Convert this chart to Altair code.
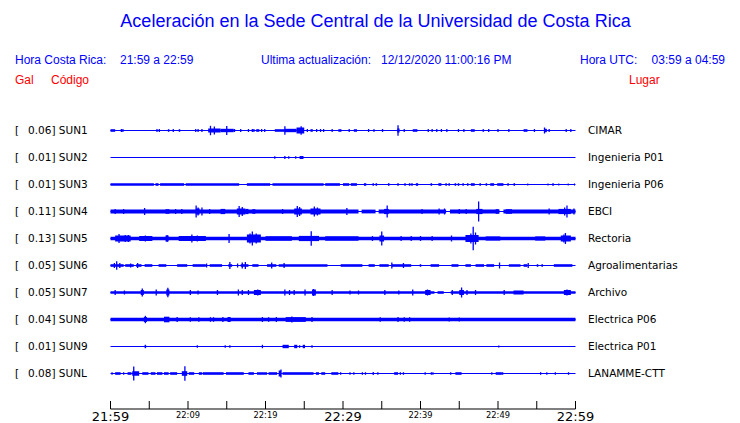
import altair as alt
import pandas as pd

# ---------------- data ----------------
CODES = ["SUN1", "SUN2", "SUN3", "SUN4", "SUN5", "SUN6", "SUN7", "SUN8", "SUN9", "SUNL"]
PEAK_GAL = ["0.06", "0.01", "0.01", "0.11", "0.13", "0.05", "0.05", "0.04", "0.01", "0.08"]
PLACES = ["CIMAR", "Ingenieria P01", "Ingenieria P06", "EBCI", "Rectoria",
          "Agroalimentarias", "Archivo", "Electrica P06", "Electrica P01", "LANAMME-CTT"]

TICK_MIN = [0, 5, 10, 15, 20, 25, 30, 35, 40, 45, 50, 55, 60]
LABEL_MIN = [0, 10, 20, 30, 40, 50, 60]
LABEL_TXT = ["21:59", "22:09", "22:19", "22:29", "22:39", "22:49", "22:59"]
LABEL_MAJOR = [True, False, False, True, False, False, True]

# envelope segments per station: (start minute, end minute, half amplitude)
SEGMENTS = {
    "SUN1": [(0.0, 0.6, 1.3), (7.4, 7.6, 1.3), (8.8, 9.0, 1.3), (12.6, 14.2, 2.0), (14.2, 15.9, 1.7),
             (18.8, 19.2, 1.3), (21.2, 22.5, 1.3), (22.5, 24.0, 1.7), (24.0, 25.0, 3.0), (25.8, 26.1, 1.3),
             (29.4, 29.8, 1.3), (31.4, 31.8, 1.3), (33.9, 34.1, 1.3), (37.0, 37.3, 2.0), (39.0, 39.6, 1.3),
             (46.5, 47.0, 1.3), (48.0, 48.2, 1.3), (53.3, 53.8, 1.3), (56.0, 56.3, 1.7)],
    "SUN2": [(24.4, 24.9, 1.5)],
    "SUN3": [(0.0, 5.6, 1.3), (5.8, 6.2, 1.3), (6.4, 9.5, 1.3), (9.7, 16.6, 1.3), (17.6, 20.6, 1.3),
             (20.9, 27.5, 1.3), (27.7, 29.6, 1.3), (30.0, 30.8, 1.3), (31.0, 31.8, 1.3), (32.7, 33.0, 1.3),
             (33.8, 34.0, 1.3), (34.2, 34.4, 1.3), (35.8, 36.0, 1.3), (37.0, 37.2, 1.3), (37.9, 38.1, 1.3),
             (38.5, 38.7, 1.3), (38.8, 39.0, 1.3), (39.4, 39.7, 1.3), (41.3, 41.5, 1.3), (42.3, 42.7, 1.3),
             (43.2, 43.4, 1.3), (43.6, 43.8, 1.3), (44.4, 44.6, 1.3), (44.8, 45.0, 1.3), (45.4, 45.6, 1.3),
             (46.0, 46.2, 1.3), (46.5, 47.0, 1.3), (47.6, 47.8, 1.3), (48.4, 48.6, 1.3), (49.0, 49.5, 1.3),
             (49.9, 50.7, 1.3), (51.2, 51.4, 1.3), (52.0, 52.2, 1.3), (53.8, 53.9, 1.3), (56.4, 56.5, 1.3),
             (57.0, 57.2, 1.3), (57.8, 57.9, 1.3), (59.0, 59.1, 1.3), (59.8, 59.9, 1.3)],
    "SUN4": [(0.0, 32.0, 1.9), (32.4, 34.2, 1.9), (34.6, 43.3, 1.9), (43.8, 50.2, 1.9), (50.7, 60.0, 1.9),
             (7.1, 7.6, 2.3), (11.0, 11.5, 3.0), (14.2, 14.8, 2.6), (16.3, 17.4, 3.0), (17.4, 17.8, 2.6),
             (18.3, 18.7, 2.3), (23.7, 24.7, 3.0), (25.8, 27.1, 3.0), (35.3, 35.9, 2.6), (47.2, 48.0, 2.6),
             (49.7, 50.1, 2.3), (51.0, 51.8, 2.3), (57.8, 59.4, 2.6)],
    "SUN5": [(0.0, 60.0, 1.8), (0.6, 2.6, 3.0), (3.7, 5.4, 2.5), (7.1, 7.5, 3.0), (8.8, 12.3, 2.5),
             (17.6, 19.4, 4.0), (20.0, 23.4, 2.3), (24.3, 26.9, 2.6), (27.7, 32.0, 2.3), (34.7, 35.3, 3.0),
             (45.8, 47.5, 3.5), (48.4, 50.3, 2.1), (54.8, 56.1, 2.1), (58.1, 59.4, 3.0)],
    "SUN6": [(0.0, 1.7, 1.3), (1.9, 3.0, 1.3), (3.3, 4.0, 1.3), (4.4, 5.4, 1.3), (6.2, 7.2, 1.3),
             (8.6, 9.9, 1.3), (10.6, 12.3, 1.3), (12.8, 14.4, 1.3), (15.2, 15.7, 1.3), (16.8, 17.8, 1.3),
             (18.3, 19.1, 1.3), (20.2, 21.4, 1.3), (21.7, 28.0, 1.3), (29.7, 32.5, 1.3), (33.3, 34.1, 1.3),
             (34.7, 35.9, 1.3), (36.3, 38.8, 1.3), (39.9, 40.1, 1.3), (41.3, 42.4, 1.3), (44.0, 44.9, 1.3),
             (45.8, 46.5, 1.3), (47.1, 48.2, 1.3), (48.5, 49.5, 1.3), (51.4, 52.9, 1.3), (53.3, 53.8, 1.3),
             (55.0, 55.2, 1.3), (55.6, 55.8, 1.3), (57.2, 59.6, 1.3)],
    "SUN7": [(0.0, 41.8, 1.3), (42.2, 43.0, 1.3), (43.9, 60.0, 1.3), (3.9, 4.3, 2.5), (7.2, 7.6, 3.0),
             (18.5, 19.4, 2.5), (26.0, 26.5, 3.0), (40.6, 41.3, 2.5), (45.0, 45.6, 2.5), (52.0, 53.3, 2.0),
             (58.5, 59.4, 2.5)],
    "SUN8": [(0.0, 60.0, 1.8), (4.3, 4.7, 2.5), (6.9, 7.6, 2.8), (15.1, 15.5, 2.5), (22.6, 25.2, 2.4)],
    "SUN9": [(4.4, 4.6, 1.7), (22.2, 23.0, 1.7), (23.7, 24.1, 1.7), (24.8, 25.1, 1.7)],
    "SUNL": [(0.6, 1.3, 1.3), (2.2, 2.7, 1.3), (4.1, 4.9, 1.3), (5.2, 5.8, 1.3), (6.0, 6.7, 1.3),
             (6.9, 7.5, 1.3), (7.7, 8.6, 1.3), (10.1, 10.8, 1.3), (11.4, 11.8, 1.3), (11.9, 14.6, 1.3),
             (14.9, 17.2, 1.3), (17.8, 18.5, 1.3), (18.9, 20.2, 1.3), (20.4, 21.5, 1.3), (22.2, 26.2, 1.3),
             (26.5, 26.9, 1.3), (27.2, 27.7, 1.3), (28.5, 29.4, 1.3), (36.6, 37.1, 1.3), (44.5, 45.3, 1.3),
             (49.7, 50.5, 1.3), (2.8, 3.7, 2.3), (9.2, 9.9, 2.3), (21.7, 22.0, 3.0)],
}

# isolated spikes per station: (minute, half amplitude)
SPIKES = {
    "SUN1": [(1.4, 1.5), (1.6, 1.5), (6.0, 1.5), (6.3, 1.5), (8.1, 1.5), (11.0, 1.5), (11.3, 1.5), (11.8, 1.5),
             (12.9, 4.7), (13.4, 4.0), (15.0, 4.5), (16.0, 1.5), (16.8, 1.5), (17.8, 1.5), (18.3, 1.5),
             (18.5, 1.5), (19.5, 1.5), (19.9, 1.5), (22.5, 4.3), (24.6, 4.3), (25.4, 1.5), (26.6, 1.5),
             (27.1, 1.5), (27.5, 1.5), (28.6, 1.5), (30.8, 1.5), (33.3, 1.5), (35.1, 1.5), (37.1, 5.3),
             (37.9, 1.5), (41.0, 1.5), (41.5, 1.5), (42.1, 1.5), (42.7, 1.5), (43.4, 1.5), (44.9, 1.5),
             (45.6, 1.5), (48.8, 1.5), (50.0, 1.5), (51.4, 1.5), (54.7, 1.5), (56.0, 3.0), (56.6, 1.5),
             (58.8, 1.5), (59.4, 1.5)],
    "SUN2": [(21.2, 1.2), (22.5, 1.5), (23.0, 1.2), (23.9, 1.2)],
    "SUN3": [],
    "SUN4": [(0.6, 2.5), (1.7, 2.5), (4.4, 3.5), (8.4, 2.5), (9.2, 2.5), (11.05, 6.0), (11.3, 4.0), (11.8, 4.0),
             (12.8, 2.5), (16.6, 5.5), (17.0, 4.5), (22.2, 2.5), (24.1, 5.5), (24.4, 4.5), (26.3, 5.0),
             (26.7, 4.0), (30.5, 3.5), (35.7, 6.0), (40.2, 2.5), (42.4, 3.0), (43.1, 3.0), (45.0, 2.5),
             (45.9, 2.5), (47.5, 10.0), (56.6, 3.0), (58.6, 4.0), (58.9, 6.0), (59.8, 3.0)],
    "SUN5": [(1.1, 4.5), (1.9, 3.5), (2.3, 3.5), (4.5, 3.0), (7.3, 3.5), (10.5, 4.0), (11.2, 3.0), (15.3, 4.5),
             (18.0, 5.0), (18.3, 7.0), (18.8, 5.0), (25.9, 7.3), (33.8, 2.5), (35.0, 7.0), (37.5, 2.5),
             (38.8, 2.5), (40.0, 2.5), (41.5, 2.5), (44.0, 3.0), (46.5, 5.0), (46.8, 11.7), (47.1, 6.0),
             (58.5, 4.0), (58.7, 5.5)],
    "SUN6": [(0.5, 2.5), (0.8, 4.3), (1.2, 2.5), (2.6, 2.0), (3.5, 2.5), (12.4, 2.0), (15.4, 3.5), (16.4, 2.0),
             (17.0, 3.0), (17.4, 3.5), (20.8, 3.0), (22.4, 2.5), (36.3, 3.0), (37.8, 2.5), (50.2, 3.0),
             (53.9, 2.5)],
    "SUN7": [(0.6, 2.5), (1.8, 2.0), (4.1, 4.0), (5.9, 3.0), (7.4, 4.7), (10.3, 2.5), (11.3, 2.0), (13.8, 2.5),
             (16.5, 3.0), (17.0, 2.5), (17.8, 2.5), (19.0, 3.0), (22.5, 3.0), (23.1, 2.5), (23.7, 2.5),
             (25.1, 3.0), (26.2, 3.5), (28.6, 2.5), (30.9, 2.0), (32.0, 2.0), (35.4, 2.5), (37.2, 2.0),
             (39.0, 3.0), (40.9, 3.0), (44.1, 2.5), (45.3, 5.0), (46.0, 2.5), (47.1, 2.5), (50.8, 2.5),
             (58.9, 3.0)],
    "SUN8": [(4.5, 3.7), (8.6, 2.5), (10.3, 2.3), (11.4, 2.3), (12.9, 2.3), (13.3, 2.3), (14.5, 2.5),
             (19.6, 2.5), (20.4, 2.3), (21.4, 2.5), (23.4, 3.0), (26.0, 2.5), (34.8, 2.3), (37.1, 2.5),
             (37.9, 2.3), (38.6, 2.3), (43.7, 2.0), (45.0, 2.0)],
    "SUN9": [(11.2, 1.3), (14.8, 1.3), (15.4, 1.3), (19.6, 1.7), (24.4, 1.3), (26.0, 1.3), (50.1, 1.0)],
    "SUNL": [(0.2, 1.3), (1.7, 1.3), (3.0, 7.0), (9.6, 7.3), (22.0, 4.0), (29.7, 1.3), (30.9, 1.3), (31.4, 1.3),
             (32.5, 1.3), (32.9, 1.3), (33.9, 1.5), (34.5, 1.3), (37.4, 1.3), (37.8, 1.3), (40.6, 1.3),
             (41.4, 1.3), (41.6, 1.3), (43.9, 1.3), (49.2, 1.3), (50.6, 1.3), (55.5, 1.3), (56.3, 1.3),
             (57.4, 1.3), (59.1, 1.3)],
}

# ---------------- tables ----------------
ROW = 27  # vertical offset between traces (in amplitude units)
BLUE = "#0000ff"
RED = "#ff0000"

rows = pd.DataFrame({"code": CODES, "peak": PEAK_GAL, "place": PLACES,
                     "c": [i * ROW for i in range(len(CODES))]})
rows["left"] = rows["peak"] + "] " + rows["code"]
rows["x0"] = 0
rows["x1"] = 60

seg_rows, spk_rows = [], []
for i, code in enumerate(CODES):
    c = i * ROW
    for s, e, a in SEGMENTS[code]:
        seg_rows.append({"code": code, "s": s, "e": e, "lo": c - a, "hi": c + a})
    for t, a in SPIKES[code]:
        spk_rows.append({"code": code, "t": t, "lo": c - a, "hi": c + a})
seg_df = pd.DataFrame(seg_rows)
spk_df = pd.DataFrame(spk_rows)

ticks_df = pd.DataFrame({"t": TICK_MIN})
lab_df = pd.DataFrame({"t": LABEL_MIN, "txt": LABEL_TXT, "major": LABEL_MAJOR})
axis_df = pd.DataFrame({"x0": [0], "x1": [60]})

XS = alt.Scale(domain=[0, 60], range=[102.5, 567.5], nice=False, zero=False)
YS = alt.Scale(domain=[0, 9 * ROW], range=[122.5, 365.5], nice=False, zero=False)

base_lines = alt.Chart(rows).mark_rule(color=BLUE, strokeWidth=1.2).encode(
    x=alt.X("x0:Q", scale=XS, axis=None), x2="x1:Q",
    y=alt.Y("c:Q", scale=YS, axis=None))

segs = alt.Chart(seg_df).mark_rect(color=BLUE).encode(
    x=alt.X("s:Q", scale=XS, axis=None), x2="e:Q",
    y=alt.Y("lo:Q", scale=YS, axis=None), y2="hi:Q")

spikes = alt.Chart(spk_df).mark_rule(color=BLUE, strokeWidth=1.3).encode(
    x=alt.X("t:Q", scale=XS, axis=None),
    y=alt.Y("lo:Q", scale=YS, axis=None), y2="hi:Q")

TFONT = "DejaVu Sans"
bracket = alt.Chart(rows).mark_text(align="left", baseline="middle", font=TFONT, fontSize=10.5,
                                    color="black", text="[").encode(
    x=alt.value(7), y=alt.Y("c:Q", scale=YS, axis=None))
left_lab = alt.Chart(rows).mark_text(align="left", baseline="middle", font=TFONT, fontSize=10.5,
                                     color="black").encode(
    text="left:N", x=alt.value(20), y=alt.Y("c:Q", scale=YS, axis=None))
right_lab = alt.Chart(rows).mark_text(align="left", baseline="middle", font=TFONT, fontSize=10.5,
                                      color="black").encode(
    text="place:N", x=alt.value(580), y=alt.Y("c:Q", scale=YS, axis=None))

axis_line = alt.Chart(axis_df).mark_rule(color="black", strokeWidth=1).encode(
    x=alt.X("x0:Q", scale=XS, axis=None), x2="x1:Q", y=alt.value(401))
axis_ticks = alt.Chart(ticks_df).mark_rule(color="black", strokeWidth=1).encode(
    x=alt.X("t:Q", scale=XS, axis=None), y=alt.value(393), y2=alt.value(401))
major_lab = alt.Chart(lab_df).transform_filter("datum.major").mark_text(
    align="center", baseline="alphabetic", font=TFONT, fontSize=13, color="black").encode(
    x=alt.X("t:Q", scale=XS, axis=None), y=alt.value(413), text="txt:N")
minor_lab = alt.Chart(lab_df).transform_filter("!datum.major").mark_text(
    align="center", baseline="alphabetic", font=TFONT, fontSize=8.3, color="black").encode(
    x=alt.X("t:Q", scale=XS, axis=None), y=alt.value(410), text="txt:N")


def note(txt, x, y, color, size, align="left", font="Liberation Sans"):
    return alt.Chart(pd.DataFrame({"t": [txt]})).mark_text(
        align=align, baseline="middle", color=color, fontSize=size, font=font).encode(
        text="t:N", x=alt.value(x), y=alt.value(y))


notes = [
    note("Aceleración en la Sede Central de la Universidad de Costa Rica", 367.5, 13.5, BLUE, 18, "center"),
    note("Hora Costa Rica:", 7, 52, BLUE, 12),
    note("21:59 a 22:59", 112, 52, BLUE, 12),
    note("Ultima actualización:", 253, 52, BLUE, 12),
    note("12/12/2020 11:00:16 PM", 373, 52, BLUE, 12),
    note("Hora UTC:", 572, 52, BLUE, 12),
    note("03:59 a 04:59", 717, 52, BLUE, 12, "right"),
    note("Gal", 7, 72, RED, 12),
    note("Código", 43, 72, RED, 12),
    note("Lugar", 621, 72, RED, 12),
]

chart = alt.layer(
    base_lines, segs, spikes, bracket, left_lab, right_lab,
    axis_line, axis_ticks, major_lab, minor_lab, *notes
).properties(
    width=724, height=415, padding=0,
    autosize=alt.AutoSizeParams(type="fit", contains="padding"),
    background="white",
).configure_view(stroke=None)

chart.save("out.html", embed_options={"renderer": "svg", "actions": False})
